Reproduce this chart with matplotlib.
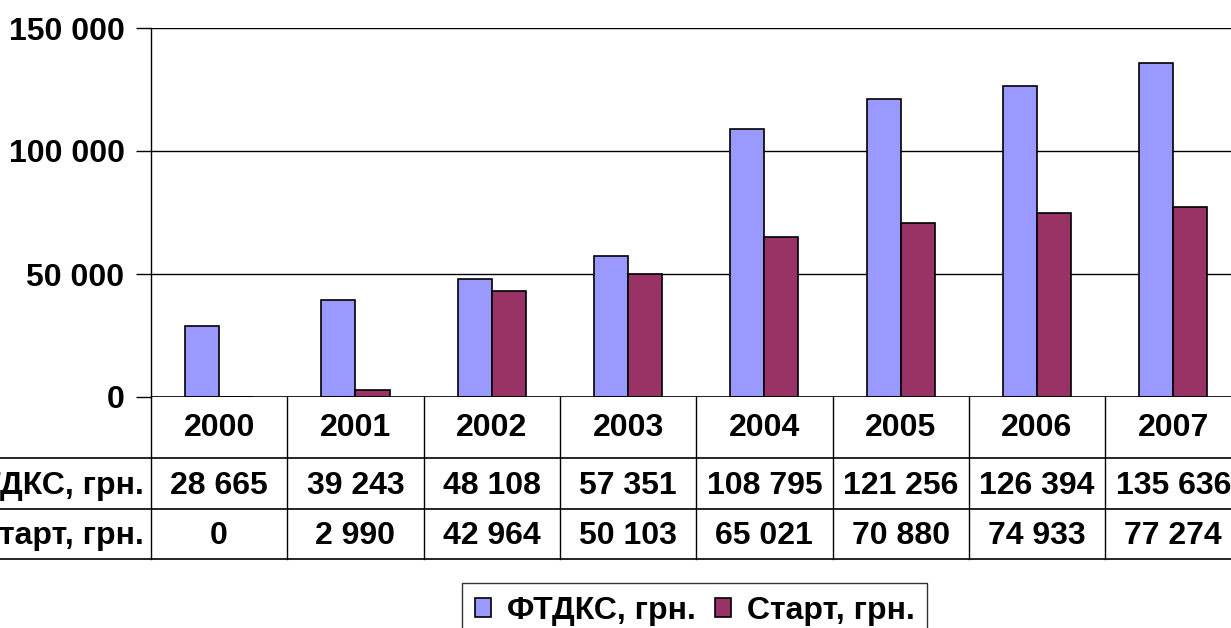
import matplotlib.pyplot as plt
from matplotlib.lines import Line2D

years = ['2000', '2001', '2002', '2003', '2004', '2005', '2006', '2007']
ftdks = [28665, 39243, 48108, 57351, 108795, 121256, 126394, 135636]
start = [0, 2990, 42964, 50103, 65021, 70880, 74933, 77274]
series_names = ['ФТДКС, грн.', 'Старт, грн.']
yticks = [0, 50000, 100000, 150000]

plt.rcParams['font.family'] = ['Liberation Sans', 'DejaVu Sans']
plt.rcParams['font.weight'] = 'bold'
FS = 23

W, H = 1231, 628
fig = plt.figure(figsize=(W / 100, H / 100), dpi=100)

# plot area in pixels (right side runs past the image edge, like the original)
x0, y0, ytop = 151, 397, 28
colw = 136.3
ax = fig.add_axes([x0 / W, 1 - y0 / H, 8 * colw / W, (y0 - ytop) / H])

def fx(px):
    return px / W

def fy(py):
    return 1 - py / H

def ay(py):
    # pixel row -> axes fraction
    return (y0 - py) / (y0 - ytop)

idx = list(range(len(years)))
bw = 0.25
b1 = ax.bar([i - bw / 2 for i in idx], ftdks, bw, color='#9999FF', edgecolor='black', linewidth=1.2, zorder=3)
b2 = ax.bar([i + bw / 2 for i in idx], start, bw, color='#993366', edgecolor='black', linewidth=1.2, zorder=3)

ax.set_xlim(-0.5, len(years) - 0.5)
ax.set_ylim(0, 150000)
ax.set_yticks(yticks)
ax.set_yticklabels([f'{v:,}'.replace(',', ' ') for v in yticks], fontsize=FS, fontweight='bold')
ax.tick_params(axis='y', length=11, width=1, pad=8, color='black')
ax.set_xticks([])
ax.grid(axis='y', color='black', linewidth=1, zorder=0)
for s in ['top', 'right', 'bottom']:
    ax.spines[s].set_visible(False)
ax.spines['left'].set_linewidth(1)
ax.axhline(0, color='black', linewidth=1.2, zorder=4)

# data table below the axis
tr = ax.get_xaxis_transform()
row_lines = [458, 509, 559]
for r in row_lines:
    fig.add_artist(Line2D([0, 1], [fy(r), fy(r)], color='black', linewidth=1.2))
for i in range(len(years) + 1):
    ax.plot([i - 0.5, i - 0.5], [ay(397), ay(559)], color='black', linewidth=1,
            transform=tr, clip_on=False)

rows = [
    (428, years),
    (486, [f'{v:,}'.replace(',', ' ') for v in ftdks]),
    (536, [f'{v:,}'.replace(',', ' ') for v in start]),
]
for py, vals in rows:
    for i, v in enumerate(vals):
        ax.text(i, ay(py), v, transform=tr, ha='center', va='center',
                fontsize=FS, fontweight='bold')

for py, name in zip([486, 536], series_names):
    fig.text(fx(144), fy(py), name, ha='right', va='center', fontsize=FS, fontweight='bold')

leg = fig.legend([b1, b2], series_names, loc='upper left',
                 bbox_to_anchor=(fx(462), fy(583)), ncol=2,
                 prop={'weight': 'bold', 'size': FS},
                 handlelength=0.5, handleheight=0.5, handletextpad=0.5,
                 columnspacing=0.6, borderpad=0.4, borderaxespad=0,
                 fancybox=False, frameon=True)
leg.get_frame().set_edgecolor('black')
leg.get_frame().set_linewidth(1)

fig.savefig('out.png', dpi=100)
